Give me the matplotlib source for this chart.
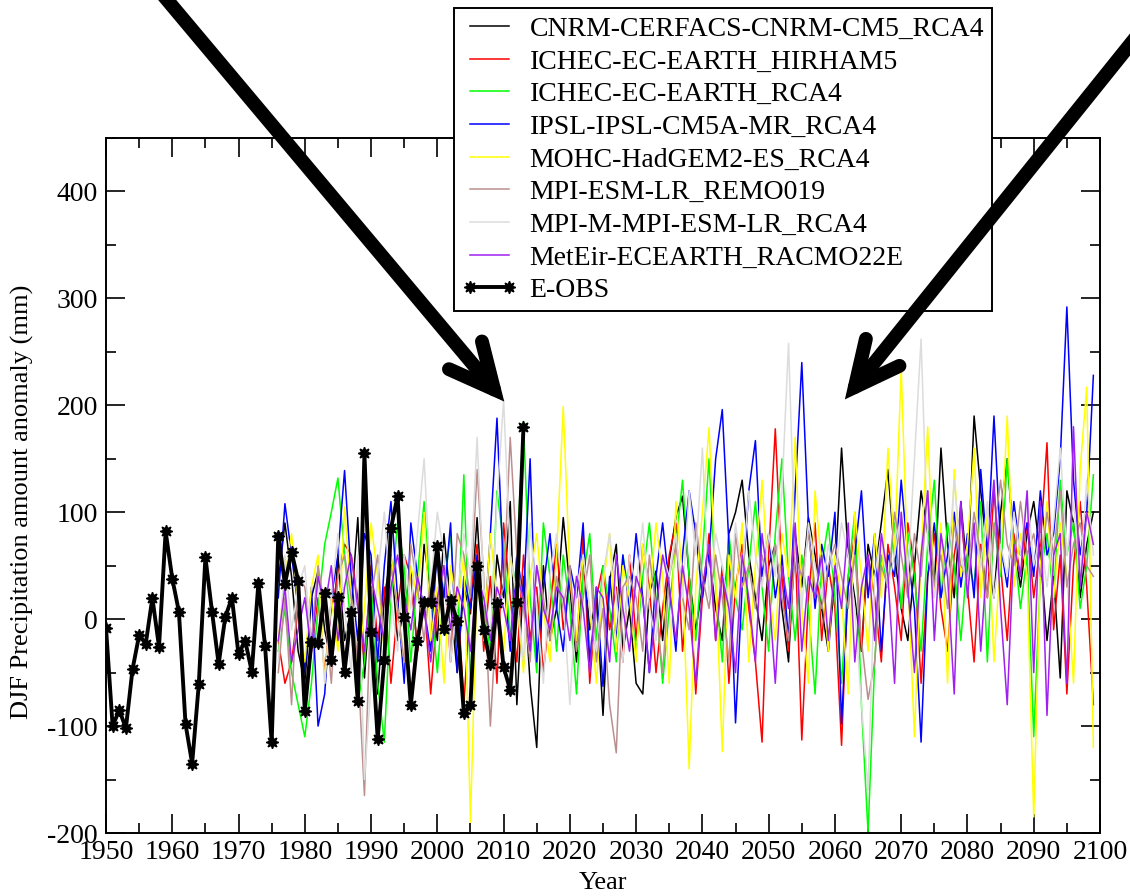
import numpy as np
import matplotlib
matplotlib.use("Agg")
import matplotlib.pyplot as plt
from matplotlib.lines import Line2D
from matplotlib.legend_handler import HandlerLine2D
from matplotlib.ticker import MultipleLocator

plt.rcParams["font.family"] = ["Liberation Serif", "DejaVu Serif"]
plt.rcParams["axes.unicode_minus"] = False

# --- E-OBS observations, DJF precipitation anomaly (mm) ---
obs_years = np.arange(1950, 2014)
obs_vals = [
    -8, -100, -85, -102, -47, -15, -23, 20, -26, 82,
    38, 7, -98, -135, -61, 58, 7, -42, 2, 20,
    -33, -20, -49, 34, -25, -115, 78, 33, 63, 36,
    -86, -21, -22, 24, -38, 21, -49, 7, -77, 155,
    -12, -112, -38, 85, 115, 2, -80, -20, 16, 16,
    68, -9, 18, -2, -88, -80, 50, -10, -42, 15,
    -45, -66, 16, 180,
]

# --- regional model runs, 1976-2099 ---
model_years = np.arange(1976, 2100)

cnrm_rca4 = [
    35, 90, 40, -30,
    -60, 20, 45, -10, -40, 60, -20, 10, 95, -55,
    30, -70, 20, 60, -20, 10, 45, -30, 70, 25,
    -20, 80, 15, -50, 30, 5, 95, -10, -40, 60,
    20, 110, -80, 40, -60, -120, 50, -20, 10, 95,
    30, -40, 60, -10, 20, -90, 35, 70, -30, 10,
    -60, -70, 25, 45, -20, 55, 95, 115, 40, -10,
    30, 60, 10, -20, 80, 100, 130, 60, 20, -20,
    50, 70, 10, -40, 80, 30, 95, 60, 10, -30,
    40, 160, 60, 20, -30, 70, 40, 90, 140, 60,
    10, -20, 50, 120, 80, 30, 160, 70, 20, 110,
    40, 190, 120, 60, 20, 100, 150, 70, 30, 80,
    110, 60, -20, 40, -55, 120, 90, 20, 70, 100,
]
ichec_hirham5 = [
    -20, -60, -40, 10,
    -80, -30, 20, -50, 10, 40, 70, 60, 20, -40,
    50, -20, 30, -60, 10, 60, 40, -30, 20, -70,
    10, 50, -40, 30, -80, 20, 70, -30, 40, -60,
    90, 20, -40, 60, -20, 30, -50, 10, 70, -10,
    40, -30, 80, -60, 20, 50, -10, 30, -40, 60,
    -20, 70, 30, -50, 10, 60, 90, -30, 40, -70,
    20, 80, -20, 50, -60, 30, 70, 10, -40, -115,
    60, 178, 40, -30, 70, -113, 20, 90, -20, 50,
    10, -118, 40, 80, -30, 60, 20, -40, 70, 30,
    -20, 90, 50, -60, 40, 80, 10, -30, 60, 100,
    30, -40, 70, 20, 120, 50, -20, 80, 40, 90,
    20, 70, 165, -10, 60, -70, 50, 110, 30, -80,
]
ichec_rca4 = [
    -30, 10, -50, -80,
    -110, -60, 10, 70, 100, 132, 60, -10, -80, -40,
    30, -60, -115, 20, 90, 50, -40, 40, 110, 20,
    -50, 30, 80, -20, 135, -60, 40, 10, -30, 120,
    70, -20, 60, 185, 20, -50, 90, 40, -30, 60,
    10, -70, 40, 80, -20, 50, 10, -40, 60, 20,
    -30, 40, 90, 20, -60, 10, 70, 130, 40, -20,
    60, 150, 30, -40, 80, 20, -10, 50, 110, 30,
    -30, 80, 150, 40, -20, 60, 10, -70, 50, 90,
    20, -60, 40, 100, -80, -200, -40, 60, 30, 90,
    10, 80, 40, -30, 70, 130, 20, 90, 50, -20,
    60, 30, 110, -40, 90, 40, 150, 70, 10, 60,
    -110, 40, 80, 20, 130, 60, 90, 10, 50, 135,
]
ipsl_rca4 = [
    20, 108, 60, 10,
    -50, 30, -100, -70, 20, 60, 139, 40, -20, 80,
    60, -40, 50, 110, 20, -60, 90, 40, 10, -30,
    70, 20, 90, -50, 40, 10, 60, -20, 80, 188,
    40, -30, 60, 20, 150, -40, 30, 80, 10, -30,
    50, 20, 90, -40, 30, -63, 40, -20, 60, 10,
    80, 20, -50, 40, 90, 30, -30, 60, 120, 80,
    20, 60, 150, 196, 70, -97, 30, 120, 167, 40,
    80, 20, 60, -20, 120, 240, 90, 10, 70, 40,
    100, -98, 30, 60, 120, 20, 80, -30, 60, 40,
    130, 60, 10, -115, 40, 90, 20, 60, 100, 30,
    80, 20, 140, 60, 190, 70, 30, 110, 60, 90,
    40, 120, 60, 80, 150, 292, 130, 60, 100, 228,
]
mohc_rca4 = [
    -20, 40, 80, 10,
    -40, 30, 60, -60, 20, -30, 105, 20, -60, 10,
    90, 40, -30, 60, 10, -40, 50, 20, 100, -20,
    30, -60, 50, 10, 60, -190, 40, -20, 80, 20,
    -30, 60, 20, -50, 40, 80, 10, -40, 60, 199,
    40, -20, 60, 10, -60, 30, 80, -30, 50, 20,
    -40, 70, 20, 90, 40, -60, 110, 40, -140, 30,
    100, 179, 40, -124, 60, 20, 90, -40, 50, 130,
    30, -20, 80, 40, 170, 10, -60, 120, 50, -30,
    60, 20, -70, 100, 40, -30, 80, 20, 160, 60,
    235, 40, -110, 60, 180, 20, 90, -60, 140, 40,
    70, 160, 20, 100, -40, 60, 190, 30, 80, 40,
    -185, 50, 110, 20, 90, 40, -60, 140, 217, -120,
]
mpi_remo = [
    -50, 20, -80, 40,
    30, -20, 50, 10, -60, 40, 60, 20, -40, -165,
    20, 60, -30, 50, 10, -40, 70, 30, -20, 40,
    10, 50, -30, 80, 60, 20, 140, 40, -100, 10,
    30, 170, 60, 10, -40, 50, 20, -20, 40, 10,
    50, -30, 20, 60, -40, 10, -80, -125, 30, 40,
    20, -30, 60, 10, -50, 40, 70, 20, -10, 90,
    40, 10, 60, 20, -40, 80, 30, 50, 10, 60,
    30, 70, 20, -20, 60, 40, 80, 30, 10, 50,
    70, 40, 10, 60, -20, -75, -40, 50, 30, 100,
    60, 20, 80, 40, 120, 30, 60, 10, 90, 50,
    40, 100, 60, 20, 80, 130, 70, 50, 110, 60,
    80, 40, 100, 60, 120, 30, 70, 90, 50, 40,
]
mpi_rca4 = [
    -40, 60, -10, 30,
    50, -30, 40, -60, 20, 80, 10, -50, 60, -150,
    -60, 40, 100, 20, -30, 60, 10, 80, 150, 30,
    100, 60, -40, 20, 80, 40, 170, 30, -20, 110,
    205, 60, 20, -40, 90, 10, -60, 40, 80, 20,
    -80, 30, 60, 10, -30, 40, 80, 20, -40, 60,
    30, 90, 10, -20, 60, 40, 80, 20, 120, 60,
    160, 20, 80, 50, 10, 90, 40, 120, 60, 30,
    80, 40, 120, 258, 60, 10, 90, 50, 20, 70,
    40, 90, 60, 10, -80, -160, 40, 80, 30, 60,
    100, 40, 150, 262, 70, 20, 80, 40, 130, 60,
    30, 90, 50, 110, 20, 70, 40, 100, 60, 120,
    50, 80, 30, 90, 160, 60, 110, 40, 130, 60,
]
meteir_racmo = [
    -20, 30, -40, -10,
    20, -30, 40, 10, 50, -20, 30, 60, 10, -30,
    40, 10, -20, 30, 60, 20, -10, 40, 10, -40,
    20, 50, -10, 30, 10, -30, 40, 20, -20, 30,
    10, -20, 40, 20, -30, 50, 10, -10, 30, 20,
    -20, 40, 10, -50, 30, 20, -40, 60, 10, -30,
    40, 20, -50, 10, 60, 30, -20, 50, 10, -60,
    30, 70, -20, 40, 10, -50, 60, 20, -40, 80,
    30, -60, 50, 10, 90, -30, 40, 20, 60, -20,
    50, 10, 90, -40, 30, 60, -20, 80, 40, -60,
    100, 30, -50, 60, 120, -20, 80, 40, -70, 110,
    20, 90, -30, 60, 130, 10, -80, 70, 40, 120,
    -50, 110, -90, 60, 80, -60, 180, 30, 100, 70,
]

model_names = [
    "CNRM-CERFACS-CNRM-CM5_RCA4",
    "ICHEC-EC-EARTH_HIRHAM5",
    "ICHEC-EC-EARTH_RCA4",
    "IPSL-IPSL-CM5A-MR_RCA4",
    "MOHC-HadGEM2-ES_RCA4",
    "MPI-ESM-LR_REMO019",
    "MPI-M-MPI-ESM-LR_RCA4",
    "MetEir-ECEARTH_RACMO22E",
]
model_series = [cnrm_rca4, ichec_hirham5, ichec_rca4, ipsl_rca4,
                mohc_rca4, mpi_remo, mpi_rca4, meteir_racmo]
model_colors = ["#000000", "#ff0000", "#00ff00", "#0000ff",
                "#ffff00", "#bc8f8f", "#dcdcdc", "#a020f0"]

W, H = 1130, 896
fig = plt.figure(figsize=(W / 100, H / 100), dpi=100)
ax = fig.add_axes([106 / W, 63 / H, 994 / W, 695 / H])

for name, vals, col in zip(model_names, model_series, model_colors):
    ax.plot(model_years, vals, color=col, lw=1.1, label=name)

ax.plot(obs_years, obs_vals, color="black", lw=2.8,
        marker=(8, 1, 0), markersize=9, label="E-OBS")

ax.set_xlim(1950, 2100)
ax.set_ylim(-200, 450)
ax.xaxis.set_major_locator(MultipleLocator(10))
ax.xaxis.set_minor_locator(MultipleLocator(5))
ax.yaxis.set_major_locator(MultipleLocator(100))
ax.yaxis.set_minor_locator(MultipleLocator(50))
ax.tick_params(which="both", direction="in", top=True, right=True,
               width=1.2, labelsize=20)
ax.tick_params(which="major", length=14)
ax.tick_params(which="minor", length=7.5)
ax.tick_params(axis="x", pad=5)
ax.tick_params(axis="y", pad=6)
for s in ax.spines.values():
    s.set_linewidth(1.4)

ax.set_xlabel("Year", fontsize=19)
ax.set_ylabel("DJF Precipitation amount anomaly (mm)", fontsize=19)
ax.xaxis.set_label_coords(0.5, -0.056)
ax.yaxis.set_label_coords(-0.072, 0.476)

# legend box sits partly above the axes frame; small vertical padding,
# line samples inset from the left border, markers right at the line ends
leg = ax.legend(loc="upper left", bbox_to_anchor=(453.5 / W, 1 - 8 / H),
                bbox_transform=fig.transFigure, fontsize=20,
                frameon=True, fancybox=False, framealpha=1,
                edgecolor="black", borderpad=0.3, labelspacing=0.26,
                handlelength=1.71, handletextpad=0.727, borderaxespad=0,
                numpoints=2,
                handler_map={Line2D: HandlerLine2D(xpad=0.3, marker_pad=0)})
leg.get_frame().set_linewidth(1.4)
leg.set_zorder(5)

# two pointers onto the plot
arrow_kw = dict(arrowstyle="->, head_length=3.2, head_width=1.55",
                mutation_scale=10, lw=10, color="black",
                capstyle="round", joinstyle="miter",
                shrinkA=0, shrinkB=0)
ax.annotate("", xy=(2010.1, 203.5), xycoords="data",
            xytext=(0.1027, 1.068), textcoords="figure fraction",
            arrowprops=arrow_kw, annotation_clip=False, zorder=10)
ax.annotate("", xy=(2061.5, 205.5), xycoords="data",
            xytext=(1.082, 1.079), textcoords="figure fraction",
            arrowprops=arrow_kw, annotation_clip=False, zorder=10)

fig.savefig("out.png", dpi=100)
